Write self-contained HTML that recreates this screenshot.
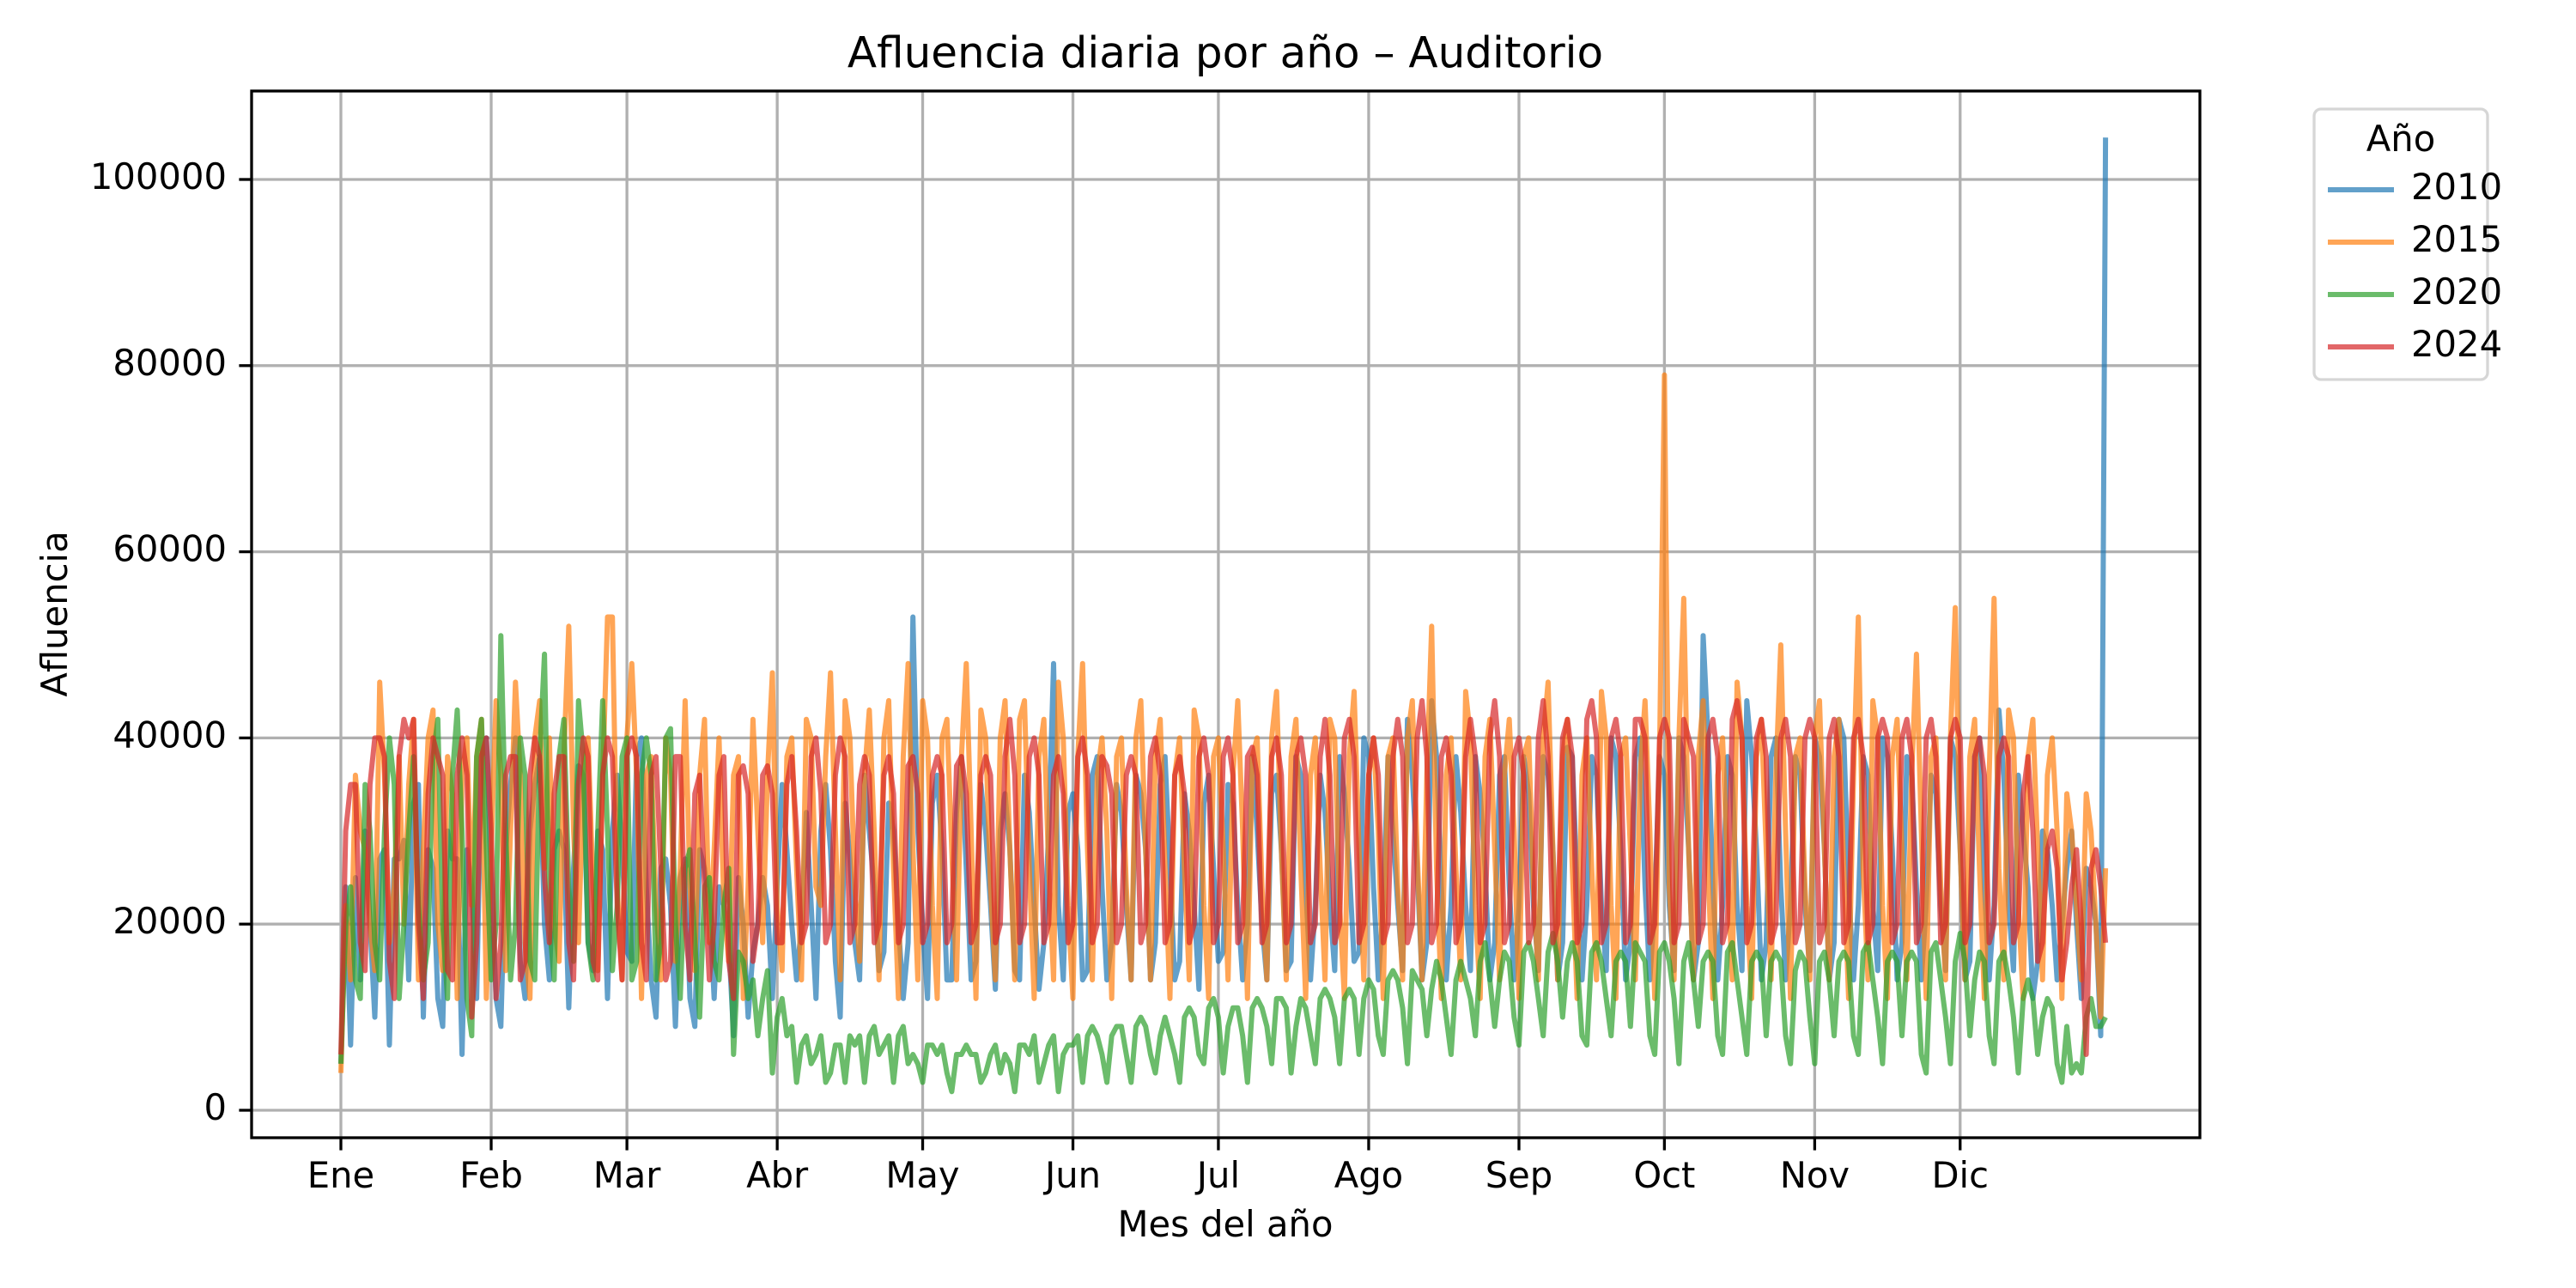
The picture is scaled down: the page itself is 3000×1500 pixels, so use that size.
<!DOCTYPE html>
<html><head><meta charset="utf-8"><style>html,body{margin:0;padding:0;background:#fff}svg{display:block}</style></head>
<body>
<svg id="chart" width="3000" height="1500" viewBox="0 0 3000 1500" xmlns="http://www.w3.org/2000/svg" font-family="'DejaVu Sans','Liberation Sans',sans-serif">
<rect width="3000" height="1500" fill="#fff"/>
<text x="1427" y="65" font-size="50" text-anchor="middle" dominant-baseline="middle">Afluencia diaria por año – Auditorio</text>
<g id="grid"></g><g id="series"></g><g id="axes"></g>
<text x="1427" y="1429" font-size="41.7" text-anchor="middle" dominant-baseline="middle">Mes del año</text>
<text x="67" y="715" font-size="41.7" text-anchor="middle" dominant-baseline="middle" transform="rotate(-90 67 715)">Afluencia</text>
<g id="legend"></g>
</svg>
<script>
const monthLabels=["Ene","Feb","Mar","Abr","May","Jun","Jul","Ago","Sep","Oct","Nov","Dic"];
const monthStartDays=[0,31,59,90,120,151,181,212,243,273,304,334];
const yTicks=[0,20000,40000,60000,80000,100000];
const years=["2010","2015","2020","2024"];
const s2010=[5,24,7,25,14,30,20,10,27,28,7,27,27,29,14,33,35,10,28,26,12,9,30,27,27,6,28,24,12,38,40,25,12,9,28,35,40,16,12,30,35,38,20,14,28,30,28,11,26,37,36,18,15,30,28,12,30,36,28,17,16,38,40,24,14,10,26,27,22,9,25,27,12,9,28,26,22,12,24,22,18,8,25,20,10,17,20,25,22,12,24,35,28,20,14,20,32,22,12,30,35,28,16,10,33,27,18,14,36,30,24,15,17,33,30,20,12,18,53,30,20,12,33,36,28,14,14,32,38,26,14,16,35,30,22,13,30,34,28,15,14,36,32,22,13,18,30,48,22,14,32,34,28,14,15,36,38,24,14,18,35,32,22,14,36,34,28,14,18,35,38,26,14,16,34,30,22,13,33,36,26,16,17,35,33,22,14,20,38,30,20,14,34,36,28,15,16,38,36,24,14,22,36,32,22,15,38,34,26,16,17,40,38,24,14,22,38,30,22,15,42,36,26,14,18,44,38,24,14,22,38,32,22,15,38,34,26,14,18,36,38,24,14,22,38,34,22,15,38,36,28,14,18,39,38,24,14,22,38,36,22,15,40,38,28,14,18,38,40,24,14,22,38,36,22,15,40,38,28,14,18,51,40,24,14,22,38,36,22,15,44,38,28,14,18,38,40,24,14,22,38,36,22,15,40,38,28,14,18,42,40,24,14,22,38,36,22,15,40,38,28,14,18,38,36,24,14,22,36,34,22,15,40,38,28,14,16,38,40,24,14,22,43,36,22,15,36,30,24,12,16,30,28,22,14,20,26,30,20,12,26,24,20,8,104.5];
const s2015=[4,22,14,36,30,28,20,15,46,36,18,24,38,20,35,42,14,28,40,43,20,15,38,34,12,36,40,22,38,42,12,28,44,36,15,30,46,36,18,12,40,44,26,40,20,16,38,52,30,18,36,40,24,15,36,53,53,24,14,40,48,36,12,36,38,22,14,40,36,16,26,44,24,15,36,42,18,28,40,22,16,36,38,12,24,42,30,18,36,47,22,15,38,40,26,14,42,40,24,22,38,47,30,14,44,40,24,16,36,43,30,14,40,44,26,12,38,48,28,14,44,40,22,12,40,42,28,14,38,48,30,12,43,40,24,14,40,44,28,14,42,44,26,12,38,42,26,14,46,40,22,12,38,48,28,14,36,40,30,12,38,40,24,14,40,44,28,14,38,42,26,12,36,40,26,14,43,40,22,12,38,40,28,14,36,44,30,12,38,40,24,14,40,45,28,14,38,42,26,12,36,40,26,14,42,40,22,12,38,45,28,14,36,40,30,12,38,40,24,14,40,44,28,14,36,52,26,12,36,40,26,14,45,40,22,12,38,42,28,14,36,42,30,12,38,40,24,14,40,46,28,14,38,42,26,12,36,40,26,14,45,40,22,12,38,40,28,14,36,44,30,12,38,79,24,14,40,55,28,14,38,44,26,12,36,40,26,14,46,40,22,12,38,42,28,14,36,50,30,12,38,40,24,14,40,44,28,14,38,42,26,12,36,53,26,14,44,40,22,12,38,42,28,14,36,49,30,12,38,40,24,14,40,54,28,14,38,42,26,12,36,55,26,14,43,40,22,12,38,42,28,14,36,40,30,12,34,30,22,14,34,30,20,10,26];
const s2020=[5,20,24,14,12,35,30,18,14,30,40,35,12,20,30,38,22,14,18,38,42,20,12,36,43,30,12,8,38,42,28,14,20,51,30,14,20,40,36,16,14,38,49,20,14,38,42,24,16,44,38,18,14,30,44,30,15,22,38,40,14,16,36,40,36,14,18,40,41,20,12,26,28,18,10,24,25,16,14,22,26,6,17,16,12,14,8,12,15,4,10,12,8,9,3,7,8,5,6,8,3,4,7,7,3,8,7,8,3,8,9,6,7,8,3,8,9,5,6,5,3,7,7,6,7,4,2,6,6,7,6,6,3,4,6,7,4,6,5,2,7,7,6,8,3,5,7,8,2,6,7,7,8,3,8,9,8,6,3,8,9,9,6,3,9,10,9,6,4,8,10,8,6,3,10,11,10,6,5,11,12,10,4,9,11,11,8,3,11,12,11,9,5,12,12,11,4,9,12,11,8,5,12,13,12,10,5,12,13,12,6,12,14,13,8,6,14,15,14,11,5,15,14,13,8,13,16,14,10,6,14,16,14,12,8,16,18,14,9,14,17,16,10,7,17,18,16,12,8,17,19,16,10,16,18,16,8,7,17,18,16,12,8,16,17,16,9,18,17,16,8,6,17,18,16,12,5,16,18,14,9,16,17,16,8,6,17,18,14,10,6,16,17,16,8,16,17,16,8,5,15,17,16,10,5,16,17,14,8,16,17,16,8,6,17,18,14,10,5,16,17,16,8,16,17,16,6,4,17,18,14,10,5,16,19,16,8,14,17,16,8,5,16,17,14,10,4,12,14,12,6,10,12,11,5,3,9,4,5,4,10,12,9,9,10];
const s2024=[6,30,35,35,18,15,35,40,40,38,16,12,38,42,40,42,20,12,34,40,38,36,15,14,36,40,36,10,18,38,40,30,12,18,36,38,38,14,16,36,40,38,25,18,34,38,38,18,14,35,40,38,16,14,36,40,38,22,14,38,40,38,18,14,36,38,26,14,16,38,38,20,14,34,36,24,14,20,36,38,16,12,36,37,34,16,20,36,37,34,18,18,35,38,30,18,20,38,40,34,18,20,36,40,38,18,20,35,38,36,18,20,36,38,34,18,20,37,38,34,18,20,36,38,36,18,20,37,38,34,18,20,36,38,36,18,20,38,42,36,18,20,38,40,36,18,20,36,38,34,18,20,38,40,36,18,20,38,37,34,18,20,36,38,36,18,20,38,40,36,18,20,36,38,34,18,20,38,40,36,18,20,38,40,36,18,20,38,39,36,18,20,38,40,36,18,20,38,40,36,18,20,38,42,36,18,20,40,42,38,18,20,36,40,36,18,20,38,42,38,18,20,40,44,38,18,20,38,40,36,18,20,38,42,38,18,20,40,44,38,18,20,38,40,36,18,20,40,44,38,18,20,40,42,38,18,20,42,44,40,18,20,40,42,38,18,20,42,42,40,18,20,40,42,40,18,20,42,40,38,18,20,40,42,38,18,20,42,44,40,18,20,40,42,38,18,20,40,42,38,18,20,40,42,40,18,20,40,42,38,18,20,40,42,38,18,20,40,42,40,18,20,40,42,38,18,20,40,42,38,18,20,40,42,40,18,20,38,40,36,18,20,38,40,38,18,20,34,38,30,16,18,28,30,26,14,18,24,28,20,6,26,28,24,18];
const seriesList=[s2010,s2015,s2020,s2024];
const colors=["#1f77b4","#ff7f0e","#2ca02c","#d62728"];

const NS="http://www.w3.org/2000/svg";
const L=293,R=2562,T=106,B=1325;
function xPos(day){return 397+day*5.646;}
function yPos(v){return 1293-v*0.01084;}
function mk(tag,attrs,parent){const e=document.createElementNS(NS,tag);for(const k in attrs)e.setAttribute(k,attrs[k]);parent.appendChild(e);return e;}
const grid=document.getElementById('grid'),axes=document.getElementById('axes'),ser=document.getElementById('series'),leg=document.getElementById('legend');

monthStartDays.forEach((d,i)=>{
  const x=xPos(d);
  const g=mk('line',{x1:x,x2:x,y1:T,y2:B,stroke:'#b0b0b0','stroke-width':3.3},grid);
  
  
  const t=mk('line',{x1:x,x2:x,y1:B,y2:B+14.6,stroke:'#000','stroke-width':3.3},axes);
  
  
  const lb=mk('text',{x:x,y:1372,'font-size':41.7,'text-anchor':'middle','dominant-baseline':'middle'},axes);
  lb.textContent=monthLabels[i];
  
  
});
yTicks.forEach(v=>{
  const y=yPos(v);
  const g=mk('line',{x1:L,x2:R,y1:y,y2:y,stroke:'#b0b0b0','stroke-width':3.3},grid);
  
  
  const t=mk('line',{x1:L-14.6,x2:L,y1:y,y2:y,stroke:'#000','stroke-width':3.3},axes);
  
  
  const lb=mk('text',{x:264,y:y,'font-size':41.7,'text-anchor':'end','dominant-baseline':'middle'},axes);
  lb.textContent=String(v);
  
  
});
seriesList.forEach((arr,si)=>{
  const pts=arr.map((v,i)=>xPos(i).toFixed(1)+','+yPos(v*1000).toFixed(1)).join(' ');
  const p=mk('polyline',{points:pts,fill:'none',stroke:colors[si],'stroke-opacity':0.7,'stroke-width':6,'stroke-linejoin':'round'},ser);
  
  
});
const frame=mk('rect',{x:L,y:T,width:R-L,height:B-T,fill:'none',stroke:'#000','stroke-width':3.3},axes);



const box=mk('rect',{x:2695,y:127,width:202,height:315,rx:8,fill:'#fff','fill-opacity':0.8,stroke:'#d6d6d6','stroke-width':3.3},leg);


const lt=mk('text',{x:2796,y:165,'font-size':41.7,'text-anchor':'middle','dominant-baseline':'middle'},leg);
lt.textContent='Año';


years.forEach((yr,i)=>{
  const y=221+i*61;
  const g=mk('g',{},leg);
  
  
  mk('line',{x1:2711,x2:2788,y1:y,y2:y,stroke:colors[i],'stroke-opacity':0.7,'stroke-width':6},g);
  const t=mk('text',{x:2808,y:y,'font-size':41.7,'dominant-baseline':'middle'},g);
  t.textContent=yr;
});
</script>
</body></html>
